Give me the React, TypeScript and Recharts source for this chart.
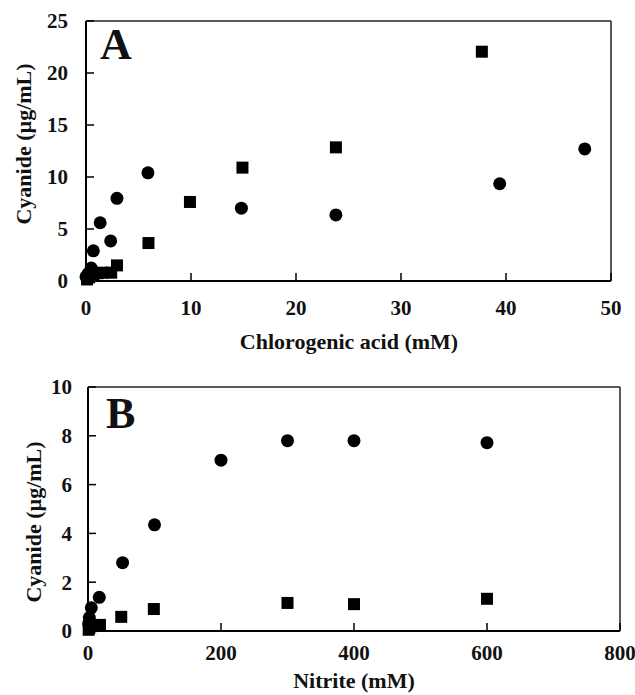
import { ReferenceLine, Scatter, ScatterChart, XAxis, YAxis } from "recharts";

// Panel A: chlorogenic acid (mM) vs cyanide (µg/mL)
const A_CIRCLE_X = [0, 0.2, 0.5, 0.7, 1.35, 2.35, 2.95, 5.9, 14.8, 23.8, 39.4, 47.5];
const A_CIRCLE_Y = [0.4, 0.7, 1.25, 2.9, 5.6, 3.85, 7.95, 10.4, 7.0, 6.35, 9.35, 12.7];
const A_SQUARE_X = [0.1, 0.3, 0.7, 1.1, 1.6, 2.4, 2.95, 5.95, 9.9, 14.9, 23.8, 37.7];
const A_SQUARE_Y = [0.15, 0.35, 0.6, 0.75, 0.8, 0.8, 1.5, 3.65, 7.6, 10.9, 12.85, 22.05];
const A_X_TICKS = [0, 10, 20, 30, 40, 50];
const A_Y_TICKS = [0, 5, 10, 15, 20, 25];

// Panel B: nitrite (mM) vs cyanide (µg/mL)
const B_CIRCLE_X = [1, 2, 5, 17, 52, 100, 200, 300, 400, 600];
const B_CIRCLE_Y = [0.3, 0.55, 0.95, 1.38, 2.8, 4.35, 7.0, 7.8, 7.8, 7.72];
const B_SQUARE_X = [1, 2, 5, 18, 50, 99, 300, 400, 600];
const B_SQUARE_Y = [0.05, 0.12, 0.2, 0.25, 0.58, 0.9, 1.15, 1.1, 1.32];
const B_X_TICKS = [0, 200, 400, 600, 800];
const B_Y_TICKS = [0, 2, 4, 6, 8, 10];

const zip = (xs: number[], ys: number[]) => xs.map((x, i) => ({ x, y: ys[i] }));

const FONT = '"Liberation Serif", "Times New Roman", serif';
const INK = "#111";

const tickStyle = { fontSize: 21, fontWeight: 700, fill: INK, fontFamily: FONT };

const Dot = (p: any) => <circle cx={p.cx} cy={p.cy} r={6.5} fill="#000" />;
const Sq = (p: any) => (
  <rect x={p.cx - 6} y={p.cy - 6} width={12} height={12} fill="#000" />
);

function Panel({
  top,
  height,
  margin,
  yWidth,
  xHeight,
  xTickMargin,
  yTickMargin,
  xDomain,
  yDomain,
  xTicks,
  yTicks,
  circles,
  squares,
}: {
  top: number;
  height: number;
  margin: { top: number; right: number; left: number; bottom: number };
  yWidth: number;
  xHeight: number;
  xTickMargin: number;
  yTickMargin: number;
  xDomain: [number, number];
  yDomain: [number, number];
  xTicks: number[];
  yTicks: number[];
  circles: { x: number; y: number }[];
  squares: { x: number; y: number }[];
}) {
  return (
    <div style={{ position: "absolute", left: 0, top }}>
      <ScatterChart width={635} height={height} margin={margin}>
        <XAxis
          type="number"
          dataKey="x"
          domain={xDomain}
          ticks={xTicks}
          interval={0}
          height={xHeight}
          tickSize={-8}
          tickMargin={xTickMargin}
          tick={tickStyle}
          axisLine={{ stroke: "#000", strokeWidth: 2 }}
          tickLine={{ stroke: "#000", strokeWidth: 1.5 }}
        />
        <YAxis
          type="number"
          dataKey="y"
          domain={yDomain}
          ticks={yTicks}
          interval={0}
          width={yWidth}
          tickSize={-8}
          tickMargin={yTickMargin}
          tick={tickStyle}
          axisLine={{ stroke: "#000", strokeWidth: 2 }}
          tickLine={{ stroke: "#000", strokeWidth: 1.5 }}
        />
        <ReferenceLine y={yDomain[1]} stroke="#222" strokeWidth={1.5} />
        <ReferenceLine x={xDomain[1]} stroke="#222" strokeWidth={1.5} />
        <Scatter data={squares} shape={Sq} isAnimationActive={false} />
        <Scatter data={circles} shape={Dot} isAnimationActive={false} />
      </ScatterChart>
    </div>
  );
}

export default function App() {
  const txt = { fontFamily: FONT, fontWeight: 700, fill: INK } as const;
  return (
    <div style={{ position: "absolute", left: 0, top: 0, width: 635, height: 695, background: "#fff" }}>
      <Panel
        top={0}
        height={340}
        margin={{ top: 21, right: 24, left: 0, bottom: 0 }}
        yWidth={86}
        xHeight={59}
        xTickMargin={27}
        yTickMargin={26}
        xDomain={[0, 50]}
        yDomain={[0, 25]}
        xTicks={A_X_TICKS}
        yTicks={A_Y_TICKS}
        circles={zip(A_CIRCLE_X, A_CIRCLE_Y)}
        squares={zip(A_SQUARE_X, A_SQUARE_Y)}
      />
      <Panel
        top={340}
        height={355}
        margin={{ top: 47, right: 15, left: 0, bottom: 0 }}
        yWidth={88}
        xHeight={64}
        xTickMargin={22}
        yTickMargin={24}
        xDomain={[0, 800]}
        yDomain={[0, 10]}
        xTicks={B_X_TICKS}
        yTicks={B_Y_TICKS}
        circles={zip(B_CIRCLE_X, B_CIRCLE_Y)}
        squares={zip(B_SQUARE_X, B_SQUARE_Y)}
      />
      <svg
        width={635}
        height={695}
        style={{ position: "absolute", left: 0, top: 0, pointerEvents: "none" }}
      >
        <text x={100} y={59} fontSize={44} {...txt}>A</text>
        <text x={106} y={428} fontSize={44} {...txt}>B</text>
        <text x={349} y={349} fontSize={22} textAnchor="middle" {...txt}>
          Chlorogenic acid (mM)
        </text>
        <text x={354} y={688} fontSize={22} textAnchor="middle" {...txt}>
          Nitrite (mM)
        </text>
        <text transform="translate(31,144) rotate(-90)" fontSize={22} textAnchor="middle" {...txt}>
          Cyanide (µg/mL)
        </text>
        <text transform="translate(41,522) rotate(-90)" fontSize={22} textAnchor="middle" {...txt}>
          Cyanide (µg/mL)
        </text>
      </svg>
    </div>
  );
}
